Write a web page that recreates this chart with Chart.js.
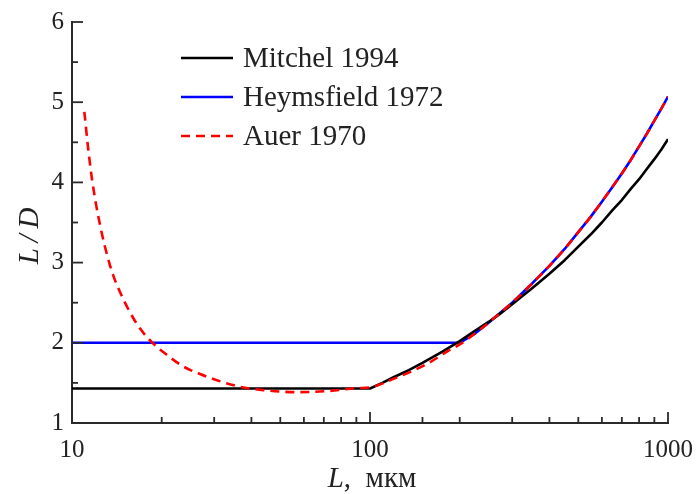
<!DOCTYPE html>
<html>
<head>
<meta charset="utf-8">
<script src="https://cdn.jsdelivr.net/npm/chart.js@4.4.1/dist/chart.umd.min.js"></script>
<style>
  html, body { margin: 0; padding: 0; background: #fff; }
  #wrap { width: 697px; height: 494px; }
</style>
</head>
<body>
<div id="wrap"><canvas id="chart" width="697" height="494"></canvas></div>
<script>
// Mitchel 1994
const mitchelL = [10, 100, 110, 120, 135, 150, 175, 200, 225, 250, 275, 300, 350, 400, 450, 500,
    550, 600, 650, 700, 750, 800, 850, 900, 950, 1000];
const mitchelR = [1.43, 1.43, 1.50, 1.57, 1.66, 1.75, 1.89, 2.02, 2.15, 2.26, 2.37, 2.48, 2.68, 2.86, 3.03, 3.20,
    3.35, 3.50, 3.65, 3.78, 3.92, 4.04, 4.17, 4.29, 4.41, 4.54];

// Heymsfield 1972
const heymL = [10, 200, 225, 250, 275, 300, 350, 400, 450, 500, 550, 600, 650, 700, 750, 800, 850, 900, 950, 1000];
const heymR = [2.0, 2.0, 2.115, 2.25, 2.38, 2.50, 2.74, 2.96, 3.17, 3.38, 3.57, 3.76, 3.94, 4.11, 4.28, 4.45,
    4.61, 4.77, 4.92, 5.07];

// Auer 1970
const auerL = [11, 11.35, 11.65, 12.05, 12.6, 13.15, 13.75, 14.5, 15.65, 16.9, 18.5, 20.8, 23.5, 26.5,
    35.8, 43.8, 56.9, 73.4, 90, 100, 120, 155, 183, 200, 225, 250, 275, 300, 350, 400, 450, 500,
    550, 600, 650, 700, 750, 800, 850, 900, 950, 1000];
const auerR = [4.88, 4.40, 4.06, 3.72, 3.36, 3.08, 2.84, 2.63, 2.38, 2.18, 2.01, 1.85, 1.71, 1.62,
    1.46, 1.41, 1.385, 1.40, 1.435, 1.445, 1.55, 1.735, 1.90, 1.98, 2.115, 2.25, 2.38, 2.50, 2.74, 2.96, 3.17, 3.38,
    3.57, 3.76, 3.94, 4.11, 4.28, 4.45, 4.61, 4.77, 4.92, 5.07];

const seriesNames = ["Mitchel 1994", "Heymsfield 1972", "Auer 1970"];
const xMajorTicks = [10, 100, 1000];
const yMajorTicks = [1, 2, 3, 4, 5, 6];

const SERIF = "'Liberation Serif', 'Times New Roman', serif";
const AXIS = "#2a2a2a";

const pts = (xs, ys) => xs.map((x, i) => ({x: x, y: ys[i]}));

const isMajorX = (v) => xMajorTicks.some((m) => Math.abs(m - v) < 1e-6);
const isMajorY = (v) => yMajorTicks.some((m) => Math.abs(m - v) < 1e-6);

// inward ticks, axis titles and in-plot legend
const decorations = {
    id: "decorations",
    afterDraw(chart) {
        const ctx = chart.ctx;
        const xs = chart.scales.x;
        const ys = chart.scales.y;
        const area = chart.chartArea;

        ctx.save();
        ctx.strokeStyle = AXIS;
        ctx.lineWidth = 1.8;
        xs.ticks.forEach((t) => {
            const px = xs.getPixelForValue(t.value);
            const len = isMajorX(t.value) ? 11 : 6;
            ctx.beginPath();
            ctx.moveTo(px, area.bottom);
            ctx.lineTo(px, area.bottom - len);
            ctx.stroke();
        });
        ys.ticks.forEach((t) => {
            const py = ys.getPixelForValue(t.value);
            const len = isMajorY(t.value) ? 11 : 6;
            ctx.beginPath();
            ctx.moveTo(area.left, py);
            ctx.lineTo(area.left + len, py);
            ctx.stroke();
        });

        // x title: italic L, upright unit
        ctx.fillStyle = "#222";
        ctx.textBaseline = "alphabetic";
        ctx.textAlign = "left";
        const partA = "L";
        const partB = ",  мкм";
        ctx.font = "italic 29px " + SERIF;
        const wA = ctx.measureText(partA).width;
        ctx.font = "29px " + SERIF;
        const wB = ctx.measureText(partB).width;
        const x0 = (area.left + area.right) / 2 - (wA + wB) / 2 + 2;
        ctx.font = "italic 29px " + SERIF;
        ctx.fillText(partA, x0, 487);
        ctx.font = "29px " + SERIF;
        ctx.fillText(partB, x0 + wA, 487);

        // y title
        ctx.save();
        ctx.translate(38, 236);
        ctx.rotate(-Math.PI / 2);
        ctx.font = "italic 29px " + SERIF;
        ctx.textAlign = "center";
        ctx.fillText("L\u2009/\u2009D", 0, 0);
        ctx.restore();

        // legend
        const rowY = [58, 97, 136];
        chart.data.datasets.forEach((ds, i) => {
            ctx.save();
            ctx.strokeStyle = ds.borderColor;
            ctx.lineWidth = ds.borderWidth;
            ctx.setLineDash(ds.borderDash || []);
            ctx.beginPath();
            ctx.moveTo(181, rowY[i]);
            ctx.lineTo(233, rowY[i]);
            ctx.stroke();
            ctx.restore();
            ctx.fillStyle = "#222";
            ctx.font = "29px " + SERIF;
            ctx.textAlign = "left";
            ctx.textBaseline = "middle";
            ctx.fillText(ds.label, 243, rowY[i] + 1);
        });
        ctx.restore();
    }
};

const lineStyle = {
    fill: false,
    pointRadius: 0,
    borderWidth: 2.6,
    borderJoinStyle: "round"
};

new Chart(document.getElementById("chart"), {
    type: "line",
    data: {
        datasets: [
            Object.assign({label: seriesNames[0], data: pts(mitchelL, mitchelR), borderColor: "#000000",
                tension: 0, order: 1}, lineStyle),
            Object.assign({label: seriesNames[1], data: pts(heymL, heymR), borderColor: "#0000ff",
                tension: 0, order: 2}, lineStyle),
            // dashed red sits on top of the others
            Object.assign({label: seriesNames[2], data: pts(auerL, auerR), borderColor: "#ff0000",
                borderDash: [9, 6], cubicInterpolationMode: "monotone", order: 0}, lineStyle)
        ]
    },
    options: {
        responsive: false,
        animation: false,
        events: [],
        layout: {padding: {top: 22, right: 29, left: 0, bottom: 0}},
        plugins: {legend: {display: false}, tooltip: {enabled: false}},
        scales: {
            x: {
                type: "logarithmic",
                min: 10,
                max: 1000,
                grid: {display: false, drawTicks: false},
                border: {display: true, color: AXIS, width: 2},
                afterFit: (scale) => {
                    scale.height = 71;
                    scale.paddingLeft = 0;
                    scale.paddingRight = 0;
                },
                ticks: {
                    autoSkip: false,
                    maxRotation: 0,
                    padding: 12,
                    color: "#222",
                    font: {family: SERIF, size: 25},
                    callback: (v) => (isMajorX(v) ? String(v) : "")
                }
            },
            y: {
                type: "linear",
                min: 1,
                max: 6,
                grid: {display: false, drawTicks: false},
                border: {display: true, color: AXIS, width: 2},
                afterFit: (scale) => {
                    scale.width = 72;
                    scale.paddingTop = 0;
                    scale.paddingBottom = 0;
                },
                ticks: {
                    stepSize: 0.5,
                    autoSkip: false,
                    padding: 8,
                    color: "#222",
                    font: {family: SERIF, size: 25},
                    callback: (v) => (isMajorY(v) ? String(v) : "")
                }
            }
        }
    },
    plugins: [decorations]
});
</script>
</body>
</html>
